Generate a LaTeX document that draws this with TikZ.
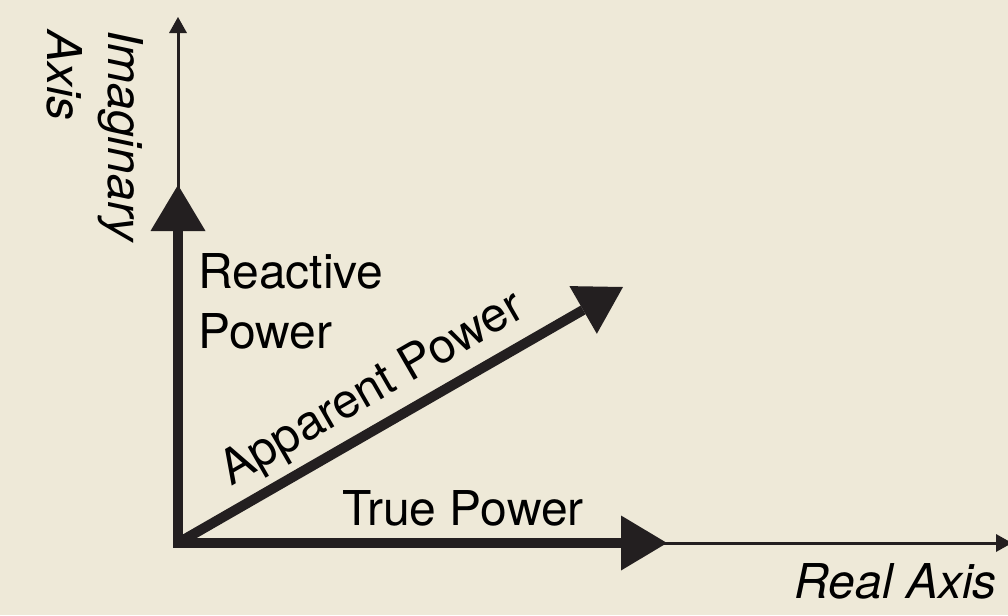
\documentclass[tikz,border=0pt]{standalone}
\usepackage{fontspec}
\setmainfont{TeX Gyre Heros}
\usetikzlibrary{arrows.meta}
\definecolor{bgc}{RGB}{238,233,216}
\definecolor{ink}{RGB}{35,31,32}
\begin{document}
\begin{tikzpicture}[x=0.75pt,y=-0.75pt,
  thickvec/.style={draw=ink, line width=7.5pt, -{Triangle[length=34.5pt,width=41.25pt,line width=0pt]}},
  thinaxis/.style={draw=ink, line width=2.25pt, -{Triangle[length=12pt,width=13.5pt,line width=0pt]}},
  lbl/.style={inner sep=0pt, text=black, font=\fontsize{36}{45}\selectfont}]
\useasboundingbox (0,0) rectangle (1008,615);
\fill[bgc] (0,0) rectangle (1008,615);
\coordinate (O) at (178,543);
\coordinate (ytop) at (178,17);
\coordinate (xend) at (1012,543);
\coordinate (qtip) at (178,185);
\coordinate (ptip) at (667,543);
\coordinate (stip) at (623,287);
\begin{scope}
\clip (0,0) rectangle (1008,615);
\draw[thinaxis] (O) -- (ytop);
\draw[thinaxis] (O) -- (xend);
\end{scope}
\draw[thickvec, line cap=rect] (O) -- (qtip);
\draw[thickvec, line cap=rect] (O) -- (ptip);
\draw[thickvec] (O) -- (stip);
\node[lbl, anchor=north west, align=left] (qlabel) at (198,253) {Reactive\\Power};
\node[lbl, anchor=base west] (plabel) at (342,525) {True Power};
\node[lbl, anchor=base, rotate=30] (slabel) at (379,401) {Apparent Power};
\node[lbl, anchor=base east, font=\fontsize{36}{45}\selectfont\itshape] (xlabel) at (997,598) {Real Axis};
\node[lbl, anchor=north west, align=left, rotate=-90, font=\fontsize{36}{45.75}\selectfont\itshape] (ylabel) at (144,30) {Imaginary\\Axis};
\end{tikzpicture}
\end{document}
